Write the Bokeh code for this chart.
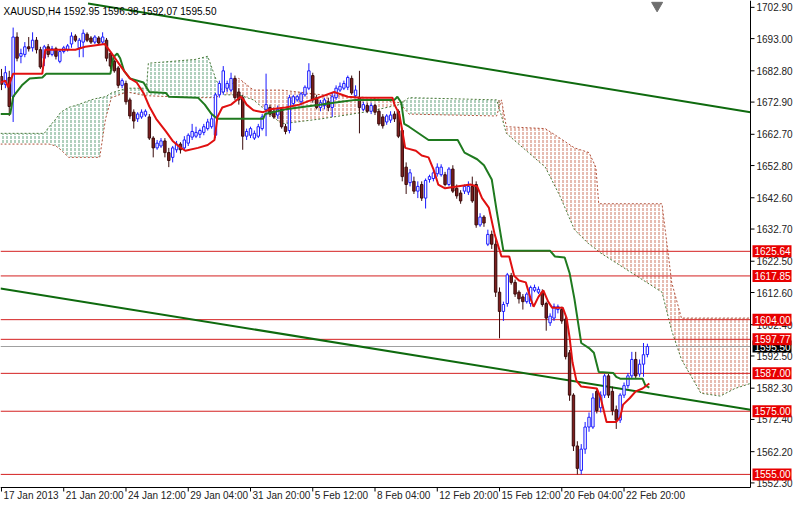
import numpy as np
from bokeh.plotting import figure
from bokeh.models import Range1d, ColumnDataSource
from bokeh.core.properties import value
from bokeh.embed import file_html
from bokeh.resources import INLINE

title_text = "XAUUSD,H4  1592.95 1596.38 1592.07 1595.50"

opens = [1681.0, 1678.5, 1680.7, 1674.6, 1693.5, 1687.4, 1688.0, 1690.4, 1690.1, 1692.5,
         1689.5, 1686.8, 1690.4, 1688.0, 1689.8, 1685.8, 1688.9, 1689.5, 1691.3, 1693.8,
         1690.1, 1691.9, 1694.4, 1693.2, 1691.9, 1693.2, 1691.9, 1692.5, 1688.3, 1685.8,
         1683.7, 1678.2, 1678.8, 1673.6, 1669.7, 1667.6, 1668.2, 1668.8, 1668.2, 1661.5,
         1658.4, 1659.0, 1660.6, 1656.9, 1655.4, 1657.8, 1659.6, 1658.4, 1659.9, 1661.8,
         1662.1, 1662.7, 1663.3, 1664.5, 1665.1, 1662.4, 1675.2, 1676.1, 1677.3, 1676.7,
         1680.4, 1676.1, 1674.3, 1662.1, 1662.4, 1661.5, 1662.1, 1664.5, 1670.6, 1671.2,
         1670.0, 1668.8, 1670.6, 1665.1, 1663.9, 1672.4, 1673.6, 1673.0, 1675.2, 1677.3,
         1681.3, 1674.3, 1671.2, 1671.8, 1673.0, 1671.2, 1674.3, 1676.7, 1677.3, 1677.6,
         1680.4, 1674.9, 1674.3, 1670.6, 1671.8, 1670.0, 1671.8, 1670.0, 1668.2, 1666.6,
         1667.2, 1669.1, 1670.0, 1663.9, 1652.3, 1647.4, 1647.8, 1644.7, 1646.8, 1642.5,
         1648.4, 1648.7, 1650.2, 1649.9, 1649.9, 1646.8, 1651.7, 1645.6, 1644.1, 1644.7,
         1644.4, 1646.2, 1646.8, 1634.0, 1636.5, 1627.9, 1631.0, 1627.9, 1612.7, 1606.6,
         1609.1, 1617.9, 1615.8, 1612.7, 1611.2, 1609.7, 1609.1, 1613.3, 1612.7, 1612.7,
         1609.1, 1603.0, 1604.5, 1607.2, 1607.2, 1604.2, 1593.5, 1580.1, 1564.0, 1556.3,
         1563.0, 1570.0, 1570.0, 1581.3, 1576.1, 1580.1, 1586.2, 1581.3, 1575.5, 1572.2,
         1580.1, 1583.1, 1586.2, 1591.4, 1586.8, 1589.9, 1592.95]
highs = [1683.4, 1684.3, 1682.8, 1696.5, 1695.0, 1689.8, 1691.9, 1693.5, 1695.0, 1693.5,
         1690.4, 1691.0, 1691.3, 1690.7, 1690.4, 1689.5, 1690.7, 1691.3, 1695.0, 1694.4,
         1693.2, 1695.9, 1695.0, 1693.8, 1694.1, 1693.8, 1695.0, 1693.2, 1688.9, 1686.4,
         1684.3, 1680.4, 1679.7, 1674.3, 1670.6, 1669.7, 1670.6, 1670.6, 1669.1, 1662.1,
         1660.9, 1661.5, 1661.5, 1658.4, 1659.0, 1660.6, 1660.2, 1662.1, 1663.0, 1666.0,
         1665.1, 1664.5, 1666.0, 1667.6, 1669.1, 1675.8, 1679.7, 1684.3, 1679.7, 1682.2,
         1681.3, 1677.3, 1675.2, 1664.5, 1665.1, 1663.9, 1666.0, 1669.1, 1681.9, 1672.1,
         1671.2, 1671.8, 1671.2, 1666.0, 1675.2, 1675.2, 1675.2, 1676.1, 1678.2, 1685.2,
         1682.2, 1675.2, 1673.6, 1674.3, 1674.3, 1676.1, 1678.2, 1679.1, 1679.7, 1681.3,
         1681.3, 1678.2, 1682.8, 1673.0, 1672.7, 1672.7, 1672.4, 1670.6, 1669.1, 1669.1,
         1670.0, 1670.0, 1670.6, 1664.5, 1653.8, 1651.7, 1649.3, 1647.8, 1647.8, 1648.7,
         1649.9, 1651.4, 1653.5, 1653.2, 1650.8, 1652.3, 1652.9, 1646.8, 1645.0, 1646.8,
         1647.8, 1649.3, 1647.8, 1637.7, 1637.1, 1632.5, 1632.2, 1629.5, 1614.2, 1609.7,
         1618.8, 1618.8, 1616.7, 1613.3, 1612.1, 1612.7, 1614.8, 1615.1, 1614.5, 1613.6,
         1609.7, 1606.0, 1609.1, 1608.8, 1608.1, 1605.1, 1594.4, 1580.7, 1565.5, 1564.6,
         1571.6, 1574.6, 1580.7, 1582.2, 1581.3, 1586.8, 1586.8, 1582.8, 1576.8, 1580.7,
         1584.1, 1587.1, 1593.8, 1593.8, 1591.4, 1596.6, 1596.38]
lows = [1676.7, 1677.3, 1668.5, 1666.6, 1685.8, 1685.2, 1687.1, 1688.9, 1688.9, 1688.3,
        1683.4, 1684.3, 1687.1, 1687.4, 1686.4, 1685.2, 1688.3, 1688.9, 1690.1, 1691.9,
        1687.1, 1687.1, 1691.9, 1691.3, 1691.3, 1691.0, 1691.3, 1685.8, 1683.4, 1682.2,
        1677.3, 1677.3, 1672.1, 1667.6, 1664.5, 1666.6, 1667.6, 1668.2, 1660.9, 1655.4,
        1657.8, 1658.4, 1655.4, 1652.3, 1653.8, 1656.9, 1656.6, 1657.5, 1659.0, 1660.9,
        1661.5, 1661.5, 1662.4, 1663.9, 1664.5, 1661.5, 1674.3, 1675.2, 1676.1, 1676.1,
        1673.6, 1672.1, 1657.8, 1660.9, 1661.5, 1660.9, 1661.5, 1663.9, 1662.1, 1668.2,
        1667.6, 1667.6, 1664.5, 1662.7, 1663.0, 1671.5, 1673.0, 1671.8, 1674.6, 1676.7,
        1672.7, 1670.6, 1670.0, 1670.6, 1670.0, 1668.2, 1673.6, 1676.1, 1676.7, 1676.7,
        1675.2, 1674.3, 1663.0, 1670.0, 1669.4, 1669.1, 1668.8, 1665.4, 1664.5, 1665.7,
        1666.3, 1666.6, 1661.5, 1647.8, 1643.8, 1646.2, 1643.8, 1642.5, 1641.6, 1639.2,
        1647.4, 1647.8, 1649.3, 1649.3, 1646.2, 1646.2, 1644.1, 1642.3, 1640.7, 1643.8,
        1643.5, 1641.0, 1633.1, 1633.4, 1633.4, 1627.3, 1626.4, 1611.2, 1598.1, 1603.6,
        1608.1, 1615.1, 1611.2, 1609.1, 1607.2, 1609.1, 1608.1, 1612.7, 1612.1, 1608.1,
        1600.5, 1602.0, 1603.6, 1606.0, 1602.7, 1591.4, 1578.3, 1562.4, 1555.0, 1555.0,
        1561.5, 1568.5, 1569.4, 1574.3, 1574.6, 1579.2, 1579.2, 1573.7, 1569.4, 1571.3,
        1579.2, 1582.2, 1585.3, 1585.3, 1585.9, 1585.9, 1592.07]
closes = [1678.5, 1682.2, 1671.5, 1693.5, 1686.8, 1688.3, 1690.4, 1689.8, 1692.5, 1689.5,
          1684.0, 1690.4, 1688.0, 1689.8, 1687.4, 1688.9, 1690.1, 1690.7, 1693.8, 1692.5,
          1692.5, 1694.7, 1692.5, 1691.9, 1693.5, 1691.6, 1693.5, 1686.8, 1684.3, 1682.8,
          1678.2, 1679.7, 1673.0, 1668.5, 1666.9, 1669.1, 1669.7, 1670.0, 1661.5, 1658.4,
          1659.9, 1660.6, 1656.9, 1654.4, 1658.4, 1659.6, 1657.8, 1660.9, 1662.4, 1663.6,
          1663.3, 1663.9, 1665.1, 1666.6, 1667.6, 1675.2, 1678.8, 1682.8, 1678.8, 1680.4,
          1674.3, 1673.6, 1662.1, 1663.6, 1664.5, 1663.0, 1665.1, 1668.2, 1672.1, 1669.1,
          1668.2, 1670.6, 1665.1, 1663.6, 1674.3, 1674.6, 1674.6, 1675.5, 1677.6, 1682.8,
          1673.6, 1671.2, 1672.7, 1673.6, 1671.2, 1674.6, 1677.3, 1677.9, 1678.8, 1680.7,
          1675.8, 1676.7, 1671.2, 1672.1, 1670.0, 1671.8, 1669.7, 1666.0, 1665.4, 1668.5,
          1668.8, 1667.6, 1662.1, 1649.3, 1646.8, 1650.5, 1644.7, 1646.2, 1642.5, 1648.1,
          1649.3, 1650.5, 1652.3, 1652.3, 1646.8, 1651.7, 1644.7, 1643.2, 1641.6, 1646.2,
          1646.2, 1641.6, 1634.0, 1636.5, 1634.6, 1631.0, 1627.9, 1612.7, 1606.6, 1608.8,
          1618.2, 1615.8, 1612.1, 1610.6, 1609.7, 1612.1, 1614.2, 1614.2, 1613.6, 1608.8,
          1604.5, 1605.1, 1608.1, 1608.1, 1603.6, 1592.3, 1580.1, 1564.0, 1556.9, 1563.0,
          1570.0, 1573.1, 1579.2, 1575.2, 1580.1, 1586.2, 1580.1, 1575.2, 1572.2, 1580.1,
          1583.1, 1586.2, 1591.4, 1586.2, 1589.9, 1592.9, 1595.50]

date_tick_bars = [0, 16, 32, 48, 64, 80, 96, 112, 128, 144, 160]
date_tick_labels = ["17 Jan 2013", "21 Jan 20:00", "24 Jan 12:00", "29 Jan 04:00",
                    "31 Jan 20:00", "5 Feb 12:00", "8 Feb 04:00", "12 Feb 20:00",
                    "15 Feb 12:00", "20 Feb 04:00", "22 Feb 20:00"]
price_ticks = [1702.90, 1693.00, 1682.80, 1672.90, 1662.70, 1652.80, 1642.60, 1632.70,
               1622.50, 1612.60, 1602.40, 1592.50, 1582.30, 1572.40, 1562.20, 1552.30]
levels = [1625.64, 1617.85, 1604.00, 1597.77, 1587.00, 1575.00, 1555.00]
bid = 1595.50

tenkan_x = [-0.25, 1, 1.75, 3, 10.5, 11.25, 19, 21.5, 24.75, 26.5, 28, 29.75, 31.5, 33, 34.75,
            36.5, 38, 39.75, 42.25, 44, 45.5, 47.25, 50.5, 53, 54.75, 55.5, 56.75, 59, 61.5,
            62.25, 63, 64.75, 67.25, 69, 73, 76.5, 79.75, 81.5, 85.5, 89, 92.25, 100.5, 101,
            102.25, 103, 103.75, 106.5, 108, 109.75, 111, 112.25, 114, 120.5, 122.25, 123.5,
            125.25, 126.75, 128.5, 130.5, 131.75, 133, 134.75, 136, 136.75, 138, 139.25, 140.5,
            141.5, 144.25, 145.25, 146, 146.75, 147.75, 149, 153, 154, 155.5, 158, 159, 159.75,
            161.5, 163, 164.75, 166.5]
tenkan_y = [1679.1, 1679.7, 1677.6, 1681.9, 1681.9, 1689.5, 1689.5, 1690.4, 1691.0, 1691.3,
            1688.9, 1685.8, 1682.8, 1680.4, 1679.1, 1675.8, 1671.5, 1667.6, 1663.6, 1660.6,
            1659.0, 1657.5, 1658.4, 1659.3, 1660.9, 1668.2, 1671.2, 1672.1, 1674.6, 1673.6,
            1672.1, 1670.3, 1669.7, 1670.6, 1671.2, 1672.1, 1673.6, 1674.3, 1676.1, 1674.6,
            1674.3, 1674.3, 1672.1, 1669.1, 1663.9, 1658.4, 1657.5, 1656.0, 1655.4, 1651.7,
            1646.8, 1645.6, 1646.8, 1646.2, 1642.5, 1639.5, 1631.0, 1624.0, 1624.0, 1617.9,
            1616.4, 1615.8, 1610.6, 1608.1, 1611.2, 1613.3, 1609.7, 1607.8, 1607.8, 1604.5,
            1598.4, 1590.5, 1584.7, 1582.8, 1582.2, 1579.2, 1571.6, 1571.6, 1573.1, 1577.1,
            1579.2, 1581.3, 1582.2, 1583.8]

kijun_x = [-0.25, 2.25, 3, 5.25, 7.25, 10.5, 11.5, 28, 28.75, 29.75, 30.5, 31.5, 33, 36.5,
           37.25, 38, 42.25, 43, 50.5, 52.25, 54, 55.5, 67.25, 67.75, 73, 82.25, 87.25, 91,
           101, 101.75, 102.75, 103.5, 104.75, 109.75, 117.25, 119, 122.25, 124, 126, 127.25,
           129, 141, 142.25, 144.75, 146, 147.25, 149, 151, 152.25, 153.5, 157.25, 158, 159,
           164.75, 165.5, 166.5]
kijun_y = [1669.1, 1669.1, 1674.6, 1678.2, 1680.4, 1680.7, 1681.9, 1681.9, 1687.1, 1688.3,
           1686.8, 1682.8, 1680.4, 1679.1, 1677.6, 1676.1, 1675.8, 1674.6, 1674.3, 1672.1,
           1669.1, 1667.6, 1667.6, 1669.1, 1670.6, 1672.1, 1673.0, 1673.6, 1673.6, 1674.6,
           1672.7, 1666.0, 1665.1, 1660.9, 1660.9, 1656.9, 1654.8, 1652.9, 1648.4, 1638.6,
           1625.8, 1625.8, 1624.0, 1623.7, 1618.8, 1610.6, 1596.6, 1595.0, 1593.5, 1587.4,
           1587.1, 1585.9, 1585.3, 1585.3, 1583.1, 1582.5]

cloud_x = [-0.25, 11, 12.25, 14, 15.25, 17.25, 19.75, 23, 25.25, 26.75, 28.25, 32.25, 37.25,
           37.75, 49.75, 53, 55.25, 57.25, 61, 64.75, 72, 82.25, 94.75, 102.25, 104.75, 127.25,
           128.5, 129.75, 139.75, 143.5, 147.25, 151, 152.75, 153.5, 169.75, 172.25, 174.75,
           179.75, 184.75, 188.5, 192.5]
span_a = [1663.0, 1663.0, 1665.1, 1667.6, 1669.7, 1671.2, 1672.1, 1673.6, 1674.3, 1674.6,
          1675.8, 1677.3, 1677.3, 1685.2, 1686.4, 1687.4, 1679.7, 1675.2, 1675.2, 1673.6,
          1666.0, 1667.6, 1670.0, 1672.1, 1674.3, 1673.6, 1668.5, 1663.0, 1652.3, 1643.2,
          1632.5, 1627.9, 1626.4, 1625.5, 1612.7, 1600.5, 1591.4, 1580.7, 1579.8, 1582.2, 1583.8]
span_b = [1659.6, 1659.6, 1659.6, 1659.0, 1657.8, 1655.4, 1655.4, 1655.4, 1655.4, 1667.6,
          1674.3, 1676.1, 1674.9, 1674.9, 1674.3, 1674.3, 1674.3, 1676.7, 1680.4, 1676.7,
          1676.7, 1675.2, 1674.3, 1672.7, 1669.1, 1668.5, 1673.6, 1665.1, 1664.5, 1661.5,
          1658.4, 1656.9, 1652.3, 1640.7, 1640.7, 1615.8, 1604.5, 1604.5, 1604.5, 1604.5, 1604.5]

upper_trend_x = [22.25, 192.5]
upper_trend_y = [1704.1, 1669.7]
lower_trend_x = [-0.25, 192.5]
lower_trend_y = [1613.9, 1575.5]

# ---- layout: whole canvas is the frame; axes are drawn by hand ----
W, H = 795, 502
CW, CH = 750, 484                  # plot-area size in px
TOP = 3                            # px above the plot area
X0, X1 = -0.25, 192.5              # bars shown in the plot area
Y0, Y1 = 1550.85, 1704.12          # prices shown in the plot area
xpp = (X1 - X0) / CW
ypp = (Y1 - Y0) / CH
XR = X0 + W * xpp
YT = Y1 + TOP * ypp
YB = YT - H * ypp

p = figure(width=W, height=H, output_backend="svg", toolbar_location=None,
           x_range=Range1d(X0, XR), y_range=Range1d(YB, YT),
           x_axis_location=None, y_axis_location=None,
           min_border=0, min_border_left=0, min_border_right=0,
           min_border_top=0, min_border_bottom=0)
p.grid.visible = False
p.outline_line_color = None
p.background_fill_color = "white"
p.border_fill_color = "white"

FONT = "Liberation Sans"
FS = "10px"

# cloud
ca = np.array(span_a)
cb = np.array(span_b)
top = np.maximum(ca, cb)
GREEN_C = "#3a8a5a"
BROWN_C = "#c0583c"
p.varea(x=cloud_x, y1=cb, y2=top, fill_color=None, hatch_pattern="vertical_dash",
        hatch_color=GREEN_C, hatch_scale=4, hatch_weight=1, hatch_alpha=0.8)
p.varea(x=cloud_x, y1=ca, y2=top, fill_color=None, hatch_pattern="vertical_dash",
        hatch_color=BROWN_C, hatch_scale=4, hatch_weight=1, hatch_alpha=0.8)
p.line(cloud_x, span_a, line_color="#4a7a3a", line_width=1, line_dash="2 2")
p.line(cloud_x, span_b, line_color="#b0503a", line_width=1, line_dash="2 2")

# horizontal levels
p.segment(x0=[X0] * len(levels), y0=levels, x1=[X1] * len(levels), y1=levels,
          line_color="#d42020", line_width=1)
p.segment(x0=[X0], y0=[bid], x1=[X1], y1=[bid], line_color="#a0a0a0", line_width=1)

# trendlines
TREND = "#0e6a0e"
p.line(upper_trend_x, upper_trend_y, line_color=TREND, line_width=2)
p.line(lower_trend_x, lower_trend_y, line_color=TREND, line_width=2)

# candles
n = len(closes)
idx = list(range(n))
bull = [c >= o for o, c in zip(opens, closes)]
BLUE = "#1a1aff"
BEAR_FILL = "#7d1e1e"
BEAR_LINE = "#3a0c0c"
src = ColumnDataSource(dict(
    x=idx, h=highs, l=lows,
    top=[max(o, c) for o, c in zip(opens, closes)],
    bot=[min(o, c) for o, c in zip(opens, closes)],
    wick=[BLUE if b else BEAR_LINE for b in bull],
    fill=["white" if b else BEAR_FILL for b in bull],
))
p.segment(x0="x", y0="h", x1="x", y1="l", line_color="wick", line_width=1, source=src)
p.vbar(x="x", top="top", bottom="bot", width=0.62, fill_color="fill", line_color="wick",
       line_width=1, source=src)

# ichimoku lines
p.line(kijun_x, kijun_y, line_color="#1f7a1f", line_width=2)
p.line(tenkan_x, tenkan_y, line_color="#e01010", line_width=2)

# chart-shift marker
p.scatter(x=[n + 1.5], y=[Y1 - 2 * ypp], marker="inverted_triangle", size=11,
          fill_color="#6e6e6e", line_color="#6e6e6e")

# ---- axes drawn by hand ----
p.segment(x0=[X1], y0=[Y0], x1=[X1], y1=[YT], line_color="black", line_width=1)
p.segment(x0=[X0], y0=[Y0], x1=[X1], y1=[Y0], line_color="black", line_width=1)
p.segment(x0=[X1] * len(price_ticks), y0=price_ticks,
          x1=[X1 + 4 * xpp] * len(price_ticks), y1=price_ticks, line_color="black")
p.text(x=[X1 + 6 * xpp] * len(price_ticks), y=price_ticks,
       text=["%.2f" % t for t in price_ticks], text_font=value(FONT), text_font_size=FS,
       text_color="#222222", text_baseline="middle", text_align="left")
p.segment(x0=date_tick_bars, y0=[Y0] * len(date_tick_bars), x1=date_tick_bars,
          y1=[Y0 - 4 * ypp] * len(date_tick_bars), line_color="black")
p.text(x=[t + 2 * xpp for t in date_tick_bars], y=[Y0 - 8 * ypp] * len(date_tick_bars),
       text=date_tick_labels, text_font=value(FONT), text_font_size=FS,
       text_color="#222222", text_baseline="middle", text_align="left")

# price tags on the axis (bid tag first, level tags drawn over it)
tag_x = X1 + 21.5 * xpp
p.rect(x=[tag_x], y=[bid], width=39 * xpp, height=12 * ypp, fill_color="black",
       line_color=None)
p.text(x=[X1 + 4 * xpp], y=[bid], text=["%.2f" % bid], text_font=value(FONT),
       text_font_size=FS, text_color="white", text_baseline="middle", text_align="left")
p.rect(x=[tag_x] * len(levels), y=levels, width=39 * xpp, height=12 * ypp,
       fill_color="#e80000", line_color=None)
p.text(x=[X1 + 4 * xpp] * len(levels), y=levels, text=["%.2f" % v for v in levels],
       text_font=value(FONT), text_font_size=FS, text_color="white",
       text_baseline="middle", text_align="left")

# title
p.text(x=[X0 + 3 * xpp], y=[Y1 - 2 * ypp], text=[title_text], text_font=value(FONT),
       text_font_size="10px", text_color="black", text_baseline="top", text_align="left")

open("out.html", "w").write(file_html(p, INLINE))
